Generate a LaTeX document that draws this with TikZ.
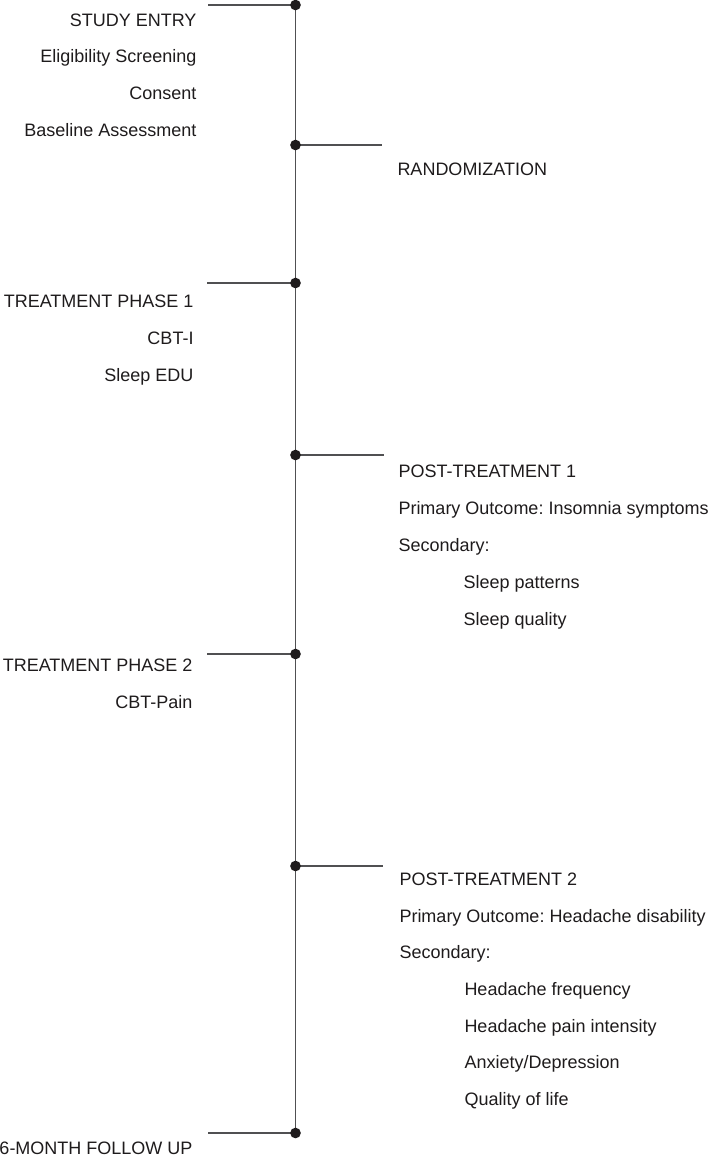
\documentclass[tikz,border=0pt]{standalone}
\usepackage{fontspec}
\setmainfont{Liberation Sans}
\frenchspacing
\definecolor{inkdark}{RGB}{30,27,28}
\definecolor{inkline}{RGB}{80,80,82}
\tikzset{every picture/.style={line width=0.75pt}}
\tikzset{
  axisline/.style={color=inkline, line width=1pt},
  tickline/.style={color=inkline, line width=1pt},
  tdot/.style={circle, fill=inkdark, inner sep=0pt, minimum size=8pt},
  lefttxt/.style={anchor=base east, inner sep=0pt, text=inkdark, font=\fontsize{13.5}{16}\selectfont},
  righttxt/.style={anchor=base west, inner sep=0pt, text=inkdark, font=\fontsize{13.5}{16}\selectfont}
}

\begin{document}
\begin{tikzpicture}[x=0.75pt,y=0.75pt,yscale=-1,xscale=1]
\useasboundingbox (0,0) rectangle (708,1158);

%Timeline points
\coordinate (entry) at (295.5,5);
\coordinate (rand) at (295.5,145);
\coordinate (phaseA) at (295.5,283);
\coordinate (postA) at (295.5,455);
\coordinate (phaseB) at (295.5,654);
\coordinate (postB) at (295.5,866);
\coordinate (follow) at (295.5,1133);
%Tick ends
\coordinate (entryT) at (208,5);
\coordinate (randT) at (382,145);
\coordinate (phaseAT) at (207,283);
\coordinate (postAT) at (384,455);
\coordinate (phaseBT) at (207,654);
\coordinate (postBT) at (383,866);
\coordinate (followT) at (208,1133);

%Straight Lines
\draw [axisline] (entry) -- (follow) ;
\draw [tickline] (entryT) -- (entry) ;
\draw [tickline] (rand) -- (randT) ;
\draw [tickline] (phaseAT) -- (phaseA) ;
\draw [tickline] (postA) -- (postAT) ;
\draw [tickline] (phaseBT) -- (phaseB) ;
\draw [tickline] (postB) -- (postBT) ;
\draw [tickline] (followT) -- (follow) ;

%Dots
\node [tdot] (entryD) at (entry) {};
\node [tdot] (randD) at (rand) {};
\node [tdot] (phaseAD) at (phaseA) {};
\node [tdot] (postAD) at (postA) {};
\node [tdot] (phaseBD) at (phaseB) {};
\node [tdot] (postBD) at (postB) {};
\node [tdot] (followD) at (follow) {};

% Text Node
\node [lefttxt] (entryL) at (197,26) {STUDY ENTRY};
\node [lefttxt] (elig) at (197,62) {Eligibility Screening};
\node [lefttxt] (consent) at (197,99) {Consent};
\node [lefttxt] (baseline) at (197,136) {Baseline Assessment};
% Text Node
\node [righttxt] (randL) at (397,175) {RANDOMIZATION};
% Text Node
\node [lefttxt] (phaseAL) at (194,307) {TREATMENT PHASE 1};
\node [lefttxt] (cbti) at (194,344) {CBT-I};
\node [lefttxt] (sleepedu) at (194,381) {Sleep EDU};
% Text Node
\node [righttxt] (postAL) at (398,477) {POST-TREATMENT 1};
\node [righttxt] (primA) at (398,514) {Primary Outcome: Insomnia symptoms};
\node [righttxt] (secA) at (398,551) {Secondary:};
\node [righttxt] (sleeppat) at (463,588) {Sleep patterns};
\node [righttxt] (sleepqual) at (463,625) {Sleep quality};
% Text Node
\node [lefttxt] (phaseBL) at (193,671) {TREATMENT PHASE 2};
\node [lefttxt] (cbtpain) at (193,708) {CBT-Pain};
% Text Node
\node [righttxt] (postBL) at (399,885) {POST-TREATMENT 2};
\node [righttxt] (primB) at (399,922) {Primary Outcome: Headache disability};
\node [righttxt] (secB) at (399,958) {Secondary:};
\node [righttxt] (hfreq) at (464,995) {Headache frequency};
\node [righttxt] (hpain) at (464,1032) {Headache pain intensity};
\node [righttxt] (anxdep) at (464,1068) {Anxiety/Depression};
\node [righttxt] (qol) at (464,1105) {Quality of life};
% Text Node
\node [lefttxt] (followL) at (193,1154) {6-MONTH FOLLOW UP};

\end{tikzpicture}
\end{document}
